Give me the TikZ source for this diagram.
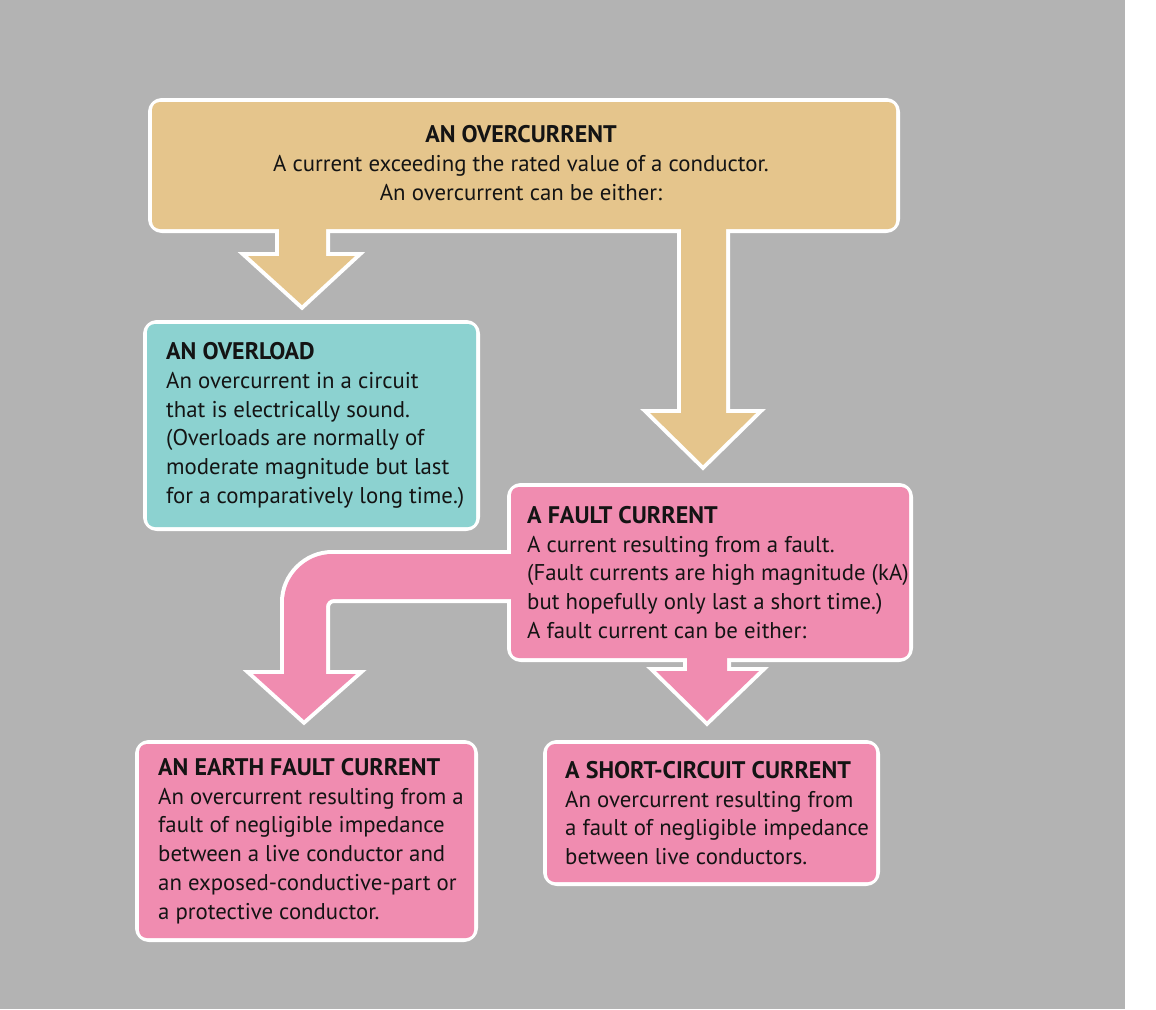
\documentclass[tikz,border=0pt]{standalone}
\usepackage{fontspec}
\setmainfont{PT Sans}
\pgfdeclarelayer{bg}
\pgfdeclarelayer{outl}
\pgfdeclarelayer{fills}
\pgfsetlayers{bg,outl,fills,main}
\definecolor{bggray}{HTML}{B3B3B3}
\definecolor{tanc}{HTML}{E5C58C}
\definecolor{tealc}{HTML}{8CD2D0}
\definecolor{pinkc}{HTML}{F08CB0}
\definecolor{inkc}{HTML}{141414}
\newcommand{\ttlx}[1]{{\fontsize{24}{28.8}\selectfont\bfseries #1}}
\tikzset{
  boxshape/.style={rectangle, minimum width=#1, inner sep=0pt, outer sep=0pt},
  outline/.style={draw=white, line width=8pt, line join=round, rounded corners=10pt},
  sharpoutline/.style={draw=white, line width=8pt, line join=miter},
  txt/.style={font=\fontsize{22.8}{28.8}\selectfont, text=inkc, inner sep=0pt, align=left},
}
\begin{document}
\begin{tikzpicture}[x=1pt,y=-1pt]
\begin{pgfonlayer}{bg}
\useasboundingbox[fill=white] (0,0) rectangle (1156,1009);
\fill[bggray] (0,0) rectangle (1125,1009);
\end{pgfonlayer}

% box nodes (invisible shapes, painted on the layers below)
\node[boxshape=744pt, minimum height=127pt] (top) at (524,165.5) {};
\node[boxshape=329pt, minimum height=203pt] (ovl) at (311.5,425.5) {};
\node[boxshape=398pt, minimum height=171pt] (flt) at (710,572.5) {};
\node[boxshape=335pt, minimum height=194pt] (ear) at (306.5,841) {};
\node[boxshape=329pt, minimum height=138pt] (sht) at (711.5,813) {};

% arrow tips
\coordinate (a1) at (302,305);
\coordinate (a2) at (703,465);
\coordinate (a3) at (304,720);
\coordinate (a4) at (707,721);

\def\arrowA{(279,215) -- (279,256) -- (248,256) -- (a1) -- (355,256) -- (326,256) -- (326,215) -- cycle}
\def\arrowB{(681,215) -- (681,413) -- (650,413) -- (a2) -- (756,413) -- (726,413) -- (726,215) -- cycle}
\def\arrowC{(530,554) -- (332,554) .. controls (306,554) and (284,576) .. (284,602) -- (284,674) -- (253,674) -- (a3) -- (356,674) -- (326,674) -- (326,607) .. controls (326,603) and (329,599) .. (334,599) -- (530,599) -- cycle}
\def\arrowD{(687,640) -- (687,671) -- (656,671) -- (a4) -- (759,671) -- (727,671) -- (727,640) -- cycle}

\begin{pgfonlayer}{outl}
  \foreach \b in {top,ovl,flt,ear,sht}
    \draw[outline] (\b.north west) rectangle (\b.south east);
  \draw[sharpoutline] \arrowA;
  \draw[sharpoutline] \arrowB;
  \draw[sharpoutline] \arrowC;
  \draw[sharpoutline] \arrowD;
\end{pgfonlayer}

\begin{pgfonlayer}{fills}
  \fill[tanc, rounded corners=8pt] (top.north west) rectangle (top.south east);
  \fill[tealc, rounded corners=8pt] (ovl.north west) rectangle (ovl.south east);
  \fill[pinkc, rounded corners=8pt] (flt.north west) rectangle (flt.south east);
  \fill[pinkc, rounded corners=8pt] (ear.north west) rectangle (ear.south east);
  \fill[pinkc, rounded corners=8pt] (sht.north west) rectangle (sht.south east);
  \fill[tanc] \arrowA;
  \fill[tanc] \arrowB;
  \fill[pinkc] \arrowC;
  \fill[pinkc] \arrowD;
\end{pgfonlayer}

% texts
\node[txt, align=center] (ttop) at (521,163) {\ttlx{AN OVERCURRENT}\\A current exceeding the rated value of a conductor.\\An overcurrent can be either:};
\node[txt, anchor=west] (tovl) at ([xshift=19pt]ovl.west) {\ttlx{AN OVERLOAD}\\An overcurrent in a circuit\\that is electrically sound.\\(Overloads are normally of\\moderate magnitude but last\\for a comparatively long time.)};
\node[txt, anchor=west] (tflt) at ([xshift=16pt]flt.west) {\ttlx{A FAULT CURRENT}\\A current resulting from a fault.\\(Fault currents are high magnitude (kA)\\but hopefully only last a short time.)\\A fault current can be either:};
\node[txt, anchor=west] (tear) at ([xshift=19pt]ear.west) {\ttlx{AN EARTH FAULT CURRENT}\\An overcurrent resulting from a\\fault of negligible impedance\\between a live conductor and\\an exposed-conductive-part or\\a protective conductor.};
\node[txt, anchor=west] (tsht) at ([xshift=18pt]sht.west) {\ttlx{A SHORT-CIRCUIT CURRENT}\\An overcurrent resulting from\\a fault of negligible impedance\\between live conductors.};
\end{tikzpicture}
\end{document}
